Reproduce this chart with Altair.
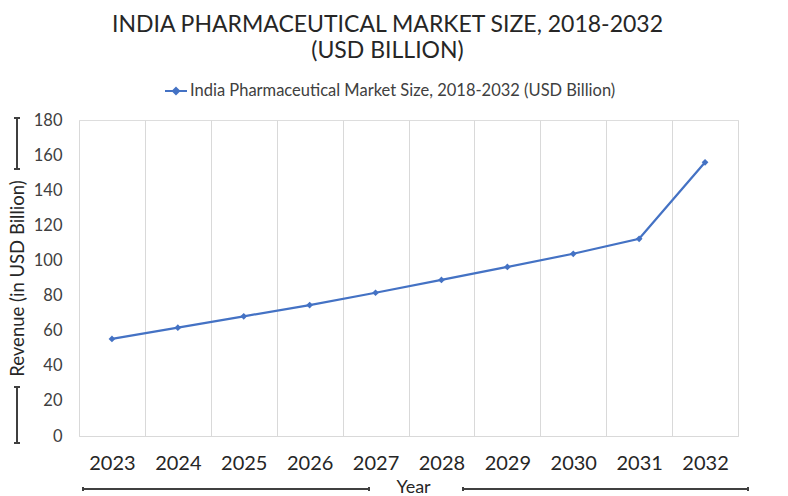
import altair as alt
import pandas as pd

years = ["2023", "2024", "2025", "2026", "2027", "2028", "2029", "2030", "2031", "2032"]
revenue = [55.3, 61.7, 68.2, 74.6, 81.6, 88.9, 96.3, 103.8, 112.3, 155.9]
series_name = "India Pharmaceutical Market Size, 2018-2032 (USD Billion)"
title_lines = ["INDIA PHARMACEUTICAL MARKET SIZE, 2018-2032", "(USD BILLION)"]
y_ticks = [0, 20, 40, 60, 80, 100, 120, 140, 160, 180]

df = pd.DataFrame({"Year": years, "Revenue": revenue, "Series": [series_name] * len(years)})

FONT = "Lato"
BLUE = "#4472C4"
DARK = "#404040"
W, H = 659, 316

base = alt.Chart(df)

line = base.mark_line(
    color=BLUE, strokeWidth=2.25,
    point=alt.OverlayMarkDef(shape="diamond", size=45, filled=True, color=BLUE),
).encode(
    x=alt.X("Year:N", sort=years,
            scale=alt.Scale(type="band", paddingInner=0, paddingOuter=0),
            axis=alt.Axis(title="Year", tickBand="extent", grid=True, gridColor="#d9d9d9",
                          gridWidth=1, ticks=False, domain=True, domainColor="#d9d9d9",
                          labelAngle=0, labelFont=FONT, labelFontSize=20, labelColor="#262626",
                          labelPadding=17, titleFont=FONT, titleFontSize=18,
                          titleFontWeight="normal", titleColor="#262626",
                          titleX=334, titleY=51, titleBaseline="middle")),
    y=alt.Y("Revenue:Q", scale=alt.Scale(domain=[0, 180], nice=False),
            axis=alt.Axis(title="Revenue (in USD Billion)", values=y_ticks, grid=False,
                          ticks=False, domain=False, labelFont=FONT, labelFontSize=16.5,
                          labelColor=DARK, labelPadding=17, titleFont=FONT,
                          titleFontSize=18.5, titleFontWeight="normal", titleColor="#262626",
                          titleX=-62, titleY=158, titleBaseline="middle")),
    color=alt.Color("Series:N", scale=alt.Scale(range=[BLUE]),
                    legend=alt.Legend(title=None, orient="none", legendX=85, legendY=-41,
                                      symbolType="M-1,0L1,0M0,-0.28L0.28,0L0,0.28L-0.28,0Z",
                                      symbolSize=484, symbolStrokeWidth=2,
                                      symbolFillColor=BLUE, symbolStrokeColor=BLUE,
                                      labelFont=FONT, labelFontSize=16.5, labelColor=DARK,
                                      labelOffset=2, labelLimit=0)),
)

def rule(x, x2, y, y2):
    return base.mark_rule(color=DARK, strokeWidth=1.3).encode(
        x=alt.value(x), x2=alt.value(x2), y=alt.value(y), y2=alt.value(y2))

YB = H + 53
deco = [
    # y-axis title brackets
    rule(-62, -62, -2, 49), rule(-65, -59, -2, -2), rule(-65, -59, 49, 49),
    rule(-62, -62, 267, 323), rule(-65, -59, 267, 267), rule(-65, -59, 323, 323),
    # x-axis title brackets
    rule(4, 290, YB, YB), rule(4, 4, YB - 2, YB + 2), rule(290, 290, YB - 2, YB + 2),
    rule(384, 669, YB, YB), rule(384, 384, YB - 2, YB + 2), rule(669, 669, YB - 2, YB + 2),
]

chart = alt.layer(line, *deco).properties(
    width=W, height=H,
    autosize=alt.AutoSizeParams(type="none"),
    padding={"left": 79, "top": 120, "right": 50, "bottom": 60},
    title=alt.TitleParams(text=title_lines, anchor="middle", frame="group", dx=-21,
                          font=FONT, fontSize=23, fontWeight="normal", color="#262626",
                          lineHeight=26, offset=16),
).configure_view(stroke=None).configure(background="white")

chart.save("out.html", embed_options={"renderer": "svg", "actions": False})
